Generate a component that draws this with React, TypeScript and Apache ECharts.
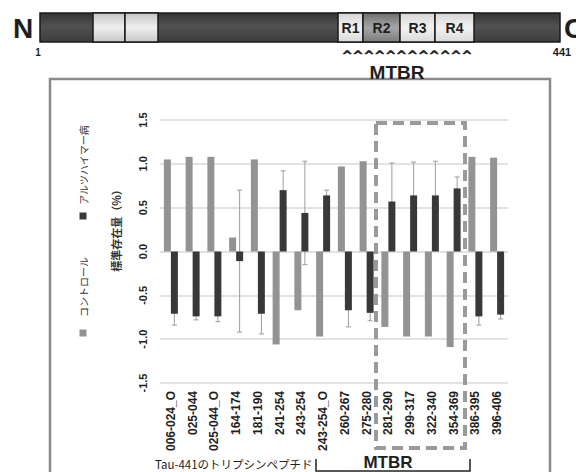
import React, { useEffect, useRef } from "react";
import * as echarts from "echarts";

const categories = [
  "006-024_O", "025-044", "025-044_O", "164-174", "181-190", "241-254", "243-254", "243-254_O",
  "260-267", "275-280", "281-290", "299-317", "322-340", "354-369", "386-395", "396-406",
];
const controlValues = [1.05, 1.08, 1.08, 0.16, 1.05, -1.06, -0.67, -0.97, 0.97, 1.03, -0.86, -0.97, -0.97, -1.09, 1.08, 1.07];
const alzheimerValues = [-0.71, -0.74, -0.74, -0.11, -0.71, 0.7, 0.44, 0.64, -0.67, -0.7, 0.57, 0.64, 0.64, 0.72, -0.74, -0.72];
const alzheimerErrors = [0.13, 0.04, 0.06, 0.81, 0.23, 0.22, 0.59, 0.06, 0.19, 0.09, 0.44, 0.38, 0.39, 0.13, 0.1, 0.05];
const legendNames = ["コントロール", "アルツハイマー病"];
const yAxisTitle = "標準存在量（%）";
const domainLabels = ["R1", "R2", "R3", "R4"];

const GRAY = "#939393";
const DARK = "#383838";
const TXT = "#1e1e1e";

export default function App() {
  const ref = useRef<HTMLDivElement>(null);
  useEffect(() => {
    const chart = echarts.init(ref.current as HTMLDivElement, null, { renderer: "svg" });
    const grad = (stops: [number, string][]) =>
      new echarts.graphic.LinearGradient(0, 0, 0, 1, stops.map(([offset, color]) => ({ offset, color })));
    const darkFill = () => grad([[0, "#333333"], [0.45, "#525252"], [1, "#3c3c3c"]]);
    const lightFill = () => grad([[0, "#c4c4c4"], [0.5, "#efefef"], [1, "#c8c8c8"]]);
    const rFill = () => grad([[0, "#d6d6d6"], [0.5, "#f2f2f2"], [1, "#dadada"]]);
    const r2Fill = () => grad([[0, "#6e6e6e"], [0.5, "#a6a6a6"], [1, "#7c7c7c"]]);
    const seg = (x1: number, x2: number, fill: any) => ({
      type: "rect",
      silent: true,
      shape: { x: x1, y: 13, width: x2 - x1, height: 29 },
      style: { fill, stroke: "#1a1a1a", lineWidth: 1.5 },
    });
    const rot = Math.PI / 2;
    const rBounds = [[338, 363], [363, 400], [400, 435], [435, 474]];

    const graphic: any[] = [
      {
        type: "rect",
        silent: true,
        z: -10,
        shape: { x: 50, y: 79, width: 500, height: 420 },
        style: { fill: "#fff", stroke: "#8a8a8a", lineWidth: 2.5 },
      },
      seg(40, 560, darkFill()),
      seg(93, 125, lightFill()),
      seg(125, 158, lightFill()),
      ...rBounds.map(([a, b], i) => seg(a, b, i === 1 ? r2Fill() : rFill())),
      ...domainLabels.map((t, i) => ({
        type: "text",
        silent: true,
        x: (rBounds[i][0] + rBounds[i][1]) / 2,
        y: 28,
        style: { text: t, fontSize: 14, fontWeight: "bold", fontFamily: "Liberation Sans", fill: TXT, align: "center", verticalAlign: "middle" },
      })),
      { type: "text", silent: true, x: 23, y: 28, style: { text: "N", fontSize: 28, fontWeight: "bold", fontFamily: "Liberation Sans", fill: TXT, align: "center", verticalAlign: "middle" } },
      { type: "text", silent: true, x: 564, y: 28, style: { text: "C", fontSize: 28, fontWeight: "bold", fontFamily: "Liberation Sans", fill: TXT, align: "left", verticalAlign: "middle" } },
      { type: "text", silent: true, x: 38, y: 52, style: { text: "1", fontSize: 10, fontWeight: "bold", fontFamily: "Liberation Sans", fill: TXT, align: "center", verticalAlign: "middle" } },
      { type: "text", silent: true, x: 562, y: 52, style: { text: "441", fontSize: 11, fontWeight: "bold", fontFamily: "Liberation Sans", fill: TXT, align: "center", verticalAlign: "middle" } },
      { type: "text", silent: true, x: 407, y: 55, style: { text: "^^^^^^^^^^^^", fontSize: 13, fontWeight: "bold", fontFamily: "DejaVu Sans", fill: TXT, stroke: TXT, lineWidth: 0.6, align: "center", verticalAlign: "middle" } },
      { type: "text", silent: true, x: 397, y: 72, style: { text: "MTBR", fontSize: 19, fontWeight: "bold", fontFamily: "Liberation Sans", fill: TXT, align: "center", verticalAlign: "middle" } },
      // legend
      { type: "rect", silent: true, shape: { x: 79.5, y: 329.5, width: 7, height: 7 }, style: { fill: GRAY } },
      { type: "text", silent: true, x: 83, y: 287, rotation: rot, style: { text: legendNames[0], fontSize: 10, fontFamily: "Noto Sans CJK JP", fill: "#333", align: "center", verticalAlign: "middle" } },
      { type: "rect", silent: true, shape: { x: 79.5, y: 212.5, width: 7, height: 7 }, style: { fill: DARK } },
      { type: "text", silent: true, x: 83, y: 165, rotation: rot, style: { text: legendNames[1], fontSize: 10, fontFamily: "Noto Sans CJK JP", fill: "#333", align: "center", verticalAlign: "middle" } },
      { type: "text", silent: true, x: 116, y: 228, rotation: rot, style: { text: yAxisTitle, fontSize: 11, fontWeight: "bold", fontFamily: "Noto Sans CJK JP", fill: "#333", align: "center", verticalAlign: "middle" } },
      // dashed MTBR box
      {
        type: "rect",
        silent: true,
        z: 50,
        shape: { x: 376, y: 123, width: 89, height: 325 },
        style: { fill: "none", stroke: "#9a9a9a", lineWidth: 4, lineDash: [11, 6] },
      },
      // bottom caption
      { type: "text", silent: true, x: 155, y: 464, style: { text: "Tau-441のトリプシンペプチド", fontSize: 11.5, fontFamily: "Noto Sans CJK JP", fill: TXT, align: "left", verticalAlign: "middle" } },
      { type: "polyline", silent: true, shape: { points: [[316, 459], [316, 471], [470, 471], [470, 459]] }, style: { stroke: "#222", lineWidth: 1.5, fill: "none" } },
      { type: "text", silent: true, x: 388, y: 462, style: { text: "MTBR", fontSize: 17, fontWeight: "bold", fontFamily: "Liberation Sans", fill: TXT, align: "center", verticalAlign: "middle" } },
    ];

    chart.setOption({
      animation: false,
      backgroundColor: "#fff",
      grid: { left: 160, right: 68, top: 120, bottom: 89, containLabel: false },
      xAxis: {
        type: "category",
        data: categories,
        axisLine: { show: false, onZero: false },
        axisTick: { show: false },
        axisLabel: { interval: 0, rotate: 90, margin: 8, fontSize: 12, fontWeight: "bold", fontFamily: "Liberation Sans", color: TXT },
        splitLine: { show: false },
      },
      yAxis: {
        type: "value",
        min: -1.5,
        max: 1.5,
        interval: 0.5,
        axisLine: { show: false },
        axisTick: { show: false },
        axisLabel: {
          rotate: 90,
          margin: 12,
          fontSize: 11,
          fontWeight: "bold",
          fontFamily: "Liberation Sans",
          color: TXT,
          formatter: (v: number) => v.toFixed(1),
        },
        splitLine: { lineStyle: { color: "#d9d9d9", width: 1.5 } },
      },
      series: [
        {
          name: legendNames[0],
          type: "bar",
          data: controlValues,
          barWidth: 7,
          barGap: "0%",
          itemStyle: { color: GRAY },
          z: 3,
        },
        {
          name: legendNames[1],
          type: "bar",
          data: alzheimerValues,
          barWidth: 7,
          barGap: "0%",
          itemStyle: { color: DARK },
          z: 3,
        },
        {
          type: "custom",
          z: 2,
          data: alzheimerValues.map((v, i) => [i, v, alzheimerErrors[i]]),
          renderItem: (params: any, api: any) => {
            const i = api.value(0);
            const v = api.value(1);
            const e = api.value(2);
            const top = api.coord([i, v + e]);
            const bot = api.coord([i, v - e]);
            const x = top[0] + 3.5;
            const st = { stroke: "#9c9c9c", lineWidth: 1 };
            return {
              type: "group",
              children: [
                { type: "line", shape: { x1: x, y1: top[1], x2: x, y2: bot[1] }, style: st },
                { type: "line", shape: { x1: x - 2.5, y1: top[1], x2: x + 2.5, y2: top[1] }, style: st },
                { type: "line", shape: { x1: x - 2.5, y1: bot[1], x2: x + 2.5, y2: bot[1] }, style: st },
              ],
            };
          },
        },
      ],
      graphic,
    });
    return () => chart.dispose();
  }, []);
  return <div ref={ref} style={{ position: "absolute", left: 0, top: 0, width: 576, height: 472 }} />;
}
